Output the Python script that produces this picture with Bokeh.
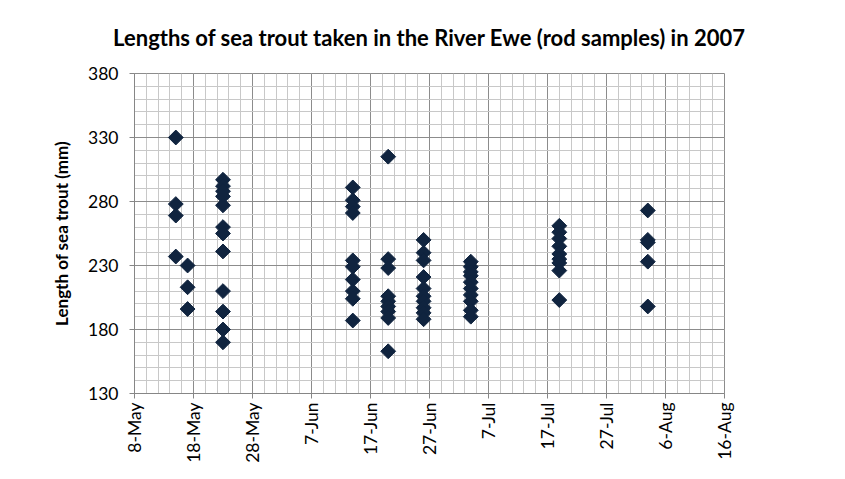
import numpy as np
import pandas as pd
from bokeh.plotting import figure
from bokeh.models import FixedTicker, ColumnDataSource, Range1d
from bokeh.embed import file_html
from bokeh.resources import INLINE

# ---- data ----
sample_dates = ["2007-05-15", "2007-05-17", "2007-05-23", "2007-06-14", "2007-06-20",
                "2007-06-26", "2007-07-04", "2007-07-19", "2007-08-03"]
len_15may = [330, 278, 269, 237]
len_17may = [230, 213, 196]
len_23may = [297, 292, 288, 284, 277, 260, 255, 241, 210, 194, 180, 170]
len_14jun = [291, 281, 276, 271, 234, 229, 219, 210, 204, 187]
len_20jun = [315, 235, 228, 206, 202, 198, 194, 189, 163]
len_26jun = [250, 240, 234, 221, 212, 206, 202, 197, 193, 188]
len_04jul = [233, 229, 225, 222, 217, 212, 207, 202, 195, 190]
len_19jul = [261, 256, 251, 245, 239, 235, 232, 226, 203]
len_03aug = [273, 250, 248, 233, 198]
lengths = [len_15may, len_17may, len_23may, len_14jun, len_20jun,
           len_26jun, len_04jul, len_19jul, len_03aug]

x_tick_labels = ["8-May", "18-May", "28-May", "7-Jun", "17-Jun", "27-Jun",
                 "7-Jul", "17-Jul", "27-Jul", "6-Aug", "16-Aug"]
x_start = "2007-05-08"
x_end = "2007-08-16"
y_ticks = [130, 180, 230, 280, 330, 380]

xs, ys = [], []
for d, vals in zip(sample_dates, lengths):
    for v in vals:
        xs.append(pd.Timestamp(d))
        ys.append(v)
src = ColumnDataSource(dict(x=xs, y=ys))

DAY = 86400000.0
t0 = pd.Timestamp(x_start).value / 1e6
t1 = pd.Timestamp(x_end).value / 1e6
major_x = [t0 + i * 10 * DAY for i in range(len(x_tick_labels))]
minor_x = list(np.arange(t0, t1 + 1, 2 * DAY))

FONT = "Lato"
p = figure(width=837, height=471, x_axis_type="datetime",
           output_backend="svg", toolbar_location=None,
           min_border_left=134, min_border_right=113,
           min_border_top=73, min_border_bottom=78,
           x_range=Range1d(t0, t1), y_range=Range1d(130, 380),
           title="Lengths of sea trout taken in the River Ewe (rod samples) in 2007\n")

p.title.align = "center"
p.title.text_font = FONT
p.title.text_font_size = "22px"
p.title.text_font_style = "bold"
p.title.text_color = "black"
p.title.text_line_height = 0.85
p.title.standoff = 0
p.title.offset = 6

p.xaxis.ticker = FixedTicker(ticks=major_x, minor_ticks=minor_x)
p.xaxis.major_label_overrides = {t: lab for t, lab in zip(major_x, x_tick_labels)}
p.xaxis.major_label_orientation = np.pi / 2
p.yaxis.ticker = FixedTicker(ticks=y_ticks, minor_ticks=list(range(130, 381, 10)))

for ax in (p.xaxis, p.yaxis):
    ax.axis_line_color = "#868686"
    ax.major_tick_line_color = "#868686"
    ax.major_tick_out = 5
    ax.major_tick_in = 0
    ax.minor_tick_out = 0
    ax.minor_tick_in = 0
    ax.major_label_text_font = FONT
    ax.major_label_text_font_size = "17.5px"
    ax.major_label_text_color = "black"
p.yaxis.major_label_standoff = 11
p.xaxis.major_label_standoff = 4

p.yaxis.axis_label = "Length of sea trout (mm)"
p.yaxis.axis_label_text_font = FONT
p.yaxis.axis_label_text_font_size = "17px"
p.yaxis.axis_label_text_font_style = "bold"
p.yaxis.axis_label_text_color = "black"
p.yaxis.axis_label_standoff = 13

for g in (p.xgrid, p.ygrid):
    g.grid_line_color = "#8c8c8c"
    g.grid_line_width = 1
    g.minor_grid_line_color = "#c8c8c8"
    g.minor_grid_line_width = 1
p.outline_line_color = "#8c8c8c"

p.scatter("x", "y", source=src, marker="square", size=10.5, angle=np.pi / 4,
          fill_color="#10243f", line_color="#10243f", line_width=1)

open("out.html", "w").write(file_html(p, INLINE))
